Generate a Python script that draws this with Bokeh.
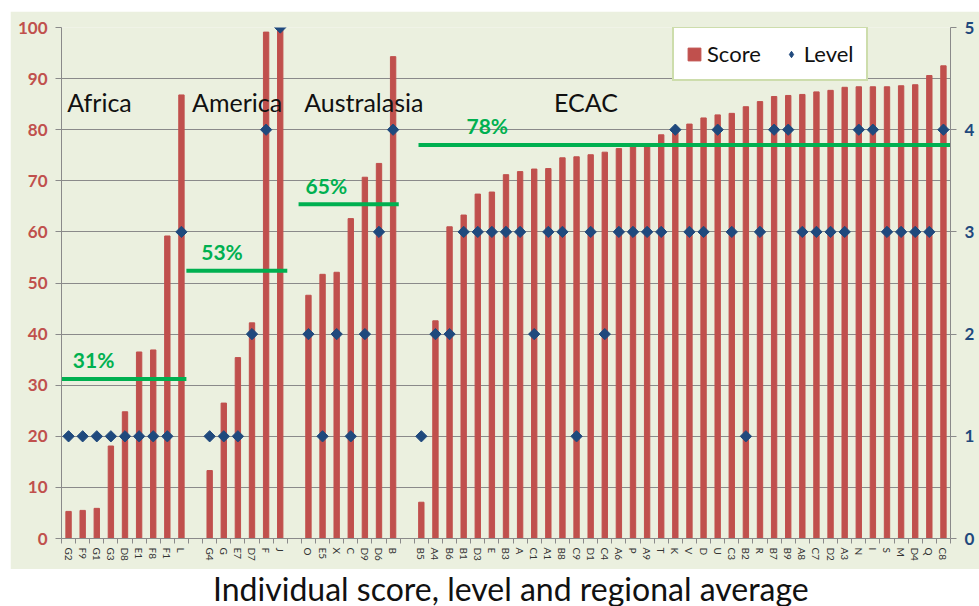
import math
from bokeh.plotting import figure
from bokeh.models import (ColumnDataSource, Range1d, LinearAxis, FixedTicker,
                          Legend, LegendItem, Label)
from bokeh.layouts import column
from bokeh.embed import file_html
from bokeh.resources import INLINE

# ---------------- data ----------------
regions = ["Africa", "America", "Australasia", "ECAC"]

africa_ids = ["G2", "F9", "G1", "G3", "D8", "E1", "F8", "F1", "L"]
africa_scores = [5.3, 5.5, 5.9, 18.1, 24.8, 36.5, 36.9, 59.2, 86.8]
africa_levels = [1, 1, 1, 1, 1, 1, 1, 1, 3]

america_ids = ["G4", "G", "E7", "D7", "F", "J"]
america_scores = [13.3, 26.5, 35.4, 42.2, 99.1, 99.8]
america_levels = [1, 1, 1, 2, 4, 5]

australasia_ids = ["O", "E5", "X", "C", "D9", "D6", "B"]
australasia_scores = [47.6, 51.7, 52.1, 62.6, 70.7, 73.4, 94.3]
australasia_levels = [2, 1, 2, 1, 2, 3, 4]

ecac_ids = ["B5", "A4", "B6", "B1", "D3", "E", "B3", "A", "C1", "A1", "B8", "C9",
            "D1", "C4", "A6", "P", "A9", "T", "K", "V", "D", "U", "C3", "B2", "R",
            "B7", "B9", "A8", "C7", "D2", "A3", "N", "I", "S", "M", "D4", "Q", "C8"]
ecac_scores = [7.1, 42.6, 61.0, 63.3, 67.4, 67.8, 71.2, 71.8, 72.3, 72.4, 74.5, 74.7,
               75.1, 75.6, 76.3, 76.7, 76.9, 79.0, 80.2, 81.1, 82.3, 82.9, 83.2, 84.5,
               85.5, 86.5, 86.7, 86.9, 87.4, 87.7, 88.3, 88.4, 88.4, 88.4, 88.6, 88.8,
               90.6, 92.5]
ecac_levels = [1, 2, 2, 3, 3, 3, 3, 3, 2, 3, 3, 1, 3, 2, 3, 3, 3, 3, 4, 3, 3, 4, 3, 1,
               3, 4, 4, 3, 3, 3, 3, 4, 4, 3, 3, 3, 3, 4]

avg_labels = ["31%", "53%", "65%", "78%"]
avg_values = [31.2, 52.4, 65.4, 77.0]

# ---------------- layout constants ----------------
BG = "#EBF0DF"
RED = "#C0504D"
BLUE = "#1F497D"
GREEN = "#00B050"
GRID = "#8A8A8A"
FONT = "Lato"

groups = [(africa_ids, africa_scores, africa_levels),
          (america_ids, america_scores, america_levels),
          (australasia_ids, australasia_scores, australasia_levels),
          (ecac_ids, ecac_scores, ecac_levels)]

xs, ids, scores, levels = [], [], [], []
starts, ends = [], []
pos = 0
for gid, gsc, glv in groups:
    starts.append(pos)
    for i, s, l in zip(gid, gsc, glv):
        xs.append(pos); ids.append(i); scores.append(s); levels.append(l)
        pos += 1
    ends.append(pos - 1)
    pos += 1  # blank slot between regions
n_slots = pos - 1

src = ColumnDataSource(dict(x=xs, id=ids, score=scores, level=levels))

p = figure(width=969, height=558, toolbar_location=None, output_backend="svg",
           x_range=Range1d(-0.5, n_slots - 0.5), y_range=Range1d(0, 100),
           min_border_left=51, min_border_right=29, min_border_top=16,
           min_border_bottom=31, margin=(11, 0, 0, 10))
p.border_fill_color = BG
p.background_fill_color = BG
p.outline_line_color = None
p.extra_y_ranges = {"lvl": Range1d(0, 5)}

bars = p.vbar(x="x", top="score", width=0.38, source=src, color=RED)

# regional average lines
line_x0 = [starts[0] - 0.5, starts[1] - 1.65, starts[2] - 0.7, starts[3] - 0.2]
line_x1 = [ends[0] + 0.35, ends[1] + 0.5, ends[2] + 0.4, n_slots - 0.5]
p.segment(x0=line_x0, y0=avg_values, x1=line_x1, y1=avg_values,
          line_color=GREEN, line_width=4)
pct_x = [starts[0] + 0.3, starts[1] - 0.6, starts[2] - 0.2, starts[3] + 3.2]
for lx, yv, txt in zip(pct_x, avg_values, avg_labels):
    p.add_layout(Label(x=lx, y=yv + 1.3, text=txt, text_color=GREEN,
                       text_font=FONT, text_font_style="bold",
                       text_font_size="21px", text_baseline="bottom"))

# region names
reg_x = [starts[0] - 0.1, starts[1] - 1.25, starts[2] - 0.3, starts[3] + 9.4]
for rx, name in zip(reg_x, regions):
    p.add_layout(Label(x=rx, y=85.5, text=name, text_color="#111111",
                       text_font=FONT, text_font_size="25px",
                       text_baseline="middle"))

dia = p.scatter(x="x", y="level", source=src, y_range_name="lvl",
                marker="square", angle=math.pi / 4, size=8,
                fill_color=BLUE, line_color=BLUE)
# legend-only glyph (diamond shape), placed outside the visible range
dia_leg = p.scatter(x=[-10.0], y=[-10.0], y_range_name="lvl", marker="diamond",
                    size=18, fill_color=BLUE, line_color=BLUE)

# axes
xa = p.xaxis[0]
xa.ticker = FixedTicker(ticks=xs, minor_ticks=[i - 0.5 for i in range(n_slots + 1)])
xa.major_label_overrides = {x: i for x, i in zip(xs, ids)}
xa.major_label_orientation = "vertical"
xa.major_tick_out = 0
xa.major_tick_in = 0
xa.minor_tick_out = 5
xa.minor_tick_in = 0
xa.minor_tick_line_color = GRID
xa.axis_line_color = GRID
xa.major_label_text_font = FONT
xa.major_label_text_font_size = "10px"
xa.major_label_text_color = "#333333"
xa.major_label_standoff = 4

ya = p.yaxis[0]
ya.ticker = FixedTicker(ticks=list(range(0, 101, 10)))
ya.major_tick_out = 6
ya.major_tick_in = 0
ya.minor_tick_out = 0
ya.minor_tick_in = 0
ya.major_tick_line_color = GRID
ya.axis_line_color = GRID
ya.major_label_text_font = FONT
ya.major_label_text_font_style = "bold"
ya.major_label_text_font_size = "17px"
ya.major_label_text_color = RED
ya.major_label_standoff = 8

ra = LinearAxis(y_range_name="lvl", ticker=FixedTicker(ticks=[0, 1, 2, 3, 4, 5]))
ra.major_tick_out = 6
ra.major_tick_in = 0
ra.minor_tick_out = 0
ra.minor_tick_in = 0
ra.major_tick_line_color = GRID
ra.axis_line_color = GRID
ra.major_label_text_font = FONT
ra.major_label_text_font_style = "bold"
ra.major_label_text_font_size = "17px"
ra.major_label_text_color = BLUE
ra.major_label_standoff = 8
p.add_layout(ra, "right")

p.xgrid.visible = False
p.ygrid.ticker = FixedTicker(ticks=list(range(0, 101, 10)))
p.ygrid.grid_line_color = GRID
p.ygrid.grid_line_width = 1

legend = Legend(items=[LegendItem(label="Score", renderers=[bars]),
                       LegendItem(label="Level", renderers=[dia_leg])],
                orientation="horizontal", location=(611, 457))
legend.background_fill_color = "white"
legend.background_fill_alpha = 1
legend.border_line_color = "#9BBB59"
legend.border_line_width = 2.5
legend.label_text_font = FONT
legend.label_text_font_size = "22px"
legend.label_text_color = "#111111"
legend.glyph_width = 16
legend.glyph_height = 16
legend.label_standoff = 5
legend.spacing = 22
legend.padding = 12
legend.margin = 0
p.add_layout(legend, "center")

# caption below the chart
t = figure(width=979, height=37, toolbar_location=None, output_backend="svg",
           x_range=Range1d(0, 1), y_range=Range1d(0, 1),
           min_border_left=0, min_border_right=0, min_border_top=0, min_border_bottom=0)
t.axis.visible = False
t.grid.visible = False
t.outline_line_color = None
t.border_fill_color = "white"
t.background_fill_color = "white"
t.add_layout(Label(x=0.511, y=0.5,
                   text="Individual score, level and regional average",
                   text_align="center", text_baseline="middle",
                   text_font=FONT, text_font_size="32px", text_color="#111111"))

layout = column(p, t, spacing=0)
open("out.html", "w").write(file_html(layout, INLINE))
